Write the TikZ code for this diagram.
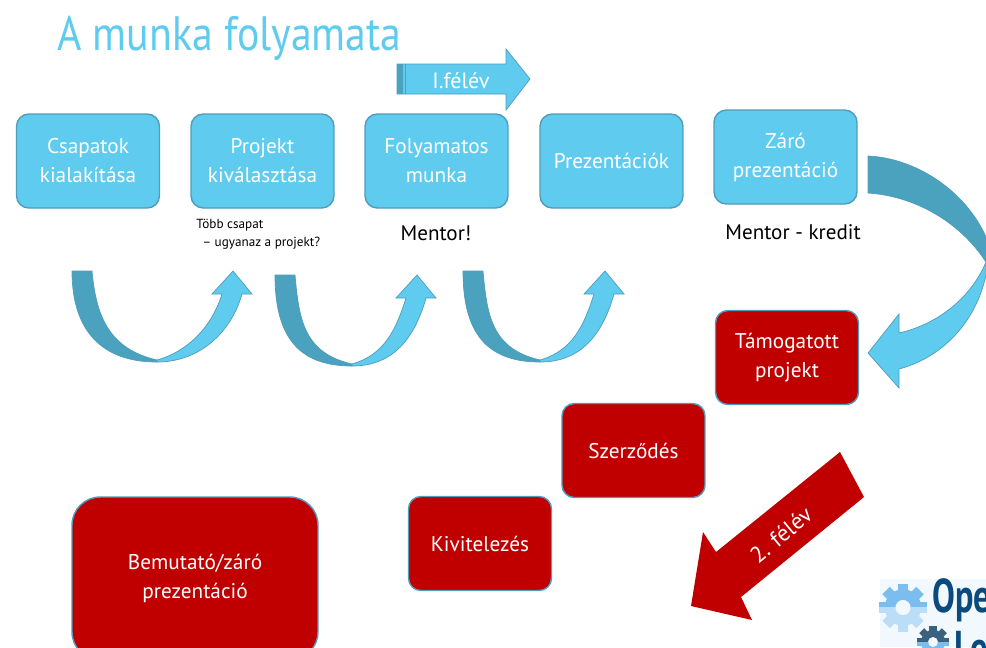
\documentclass[tikz,border=0pt]{standalone}
\usepackage{fontspec}
\setmainfont{PT Sans}
\usepackage{xcolor}
\usetikzlibrary{positioning}
\definecolor{lightblue}{HTML}{5FCBEF}
\definecolor{darkteal}{HTML}{4AA2BE}
\definecolor{edgeblue}{HTML}{4F9DBB}
\definecolor{darkred}{HTML}{C00000}
\definecolor{logoblue}{HTML}{0B4A7D}
\definecolor{logosky}{HTML}{7BBDEE}
\definecolor{logopale}{HTML}{BBDDF7}
\definecolor{logoslate}{HTML}{3A6180}
\definecolor{logoback}{HTML}{F2F9FE}
\tikzset{
  bluebox/.style={draw=edgeblue, line width=0.8pt, fill=lightblue, rounded corners=7pt, text=white, align=center, minimum width=2.86cm, minimum height=1.88cm, inner sep=0pt, font=\fontsize{12.1}{16.5}\selectfont},
  redbox/.style={bluebox, fill=darkred},
  note/.style={black, align=left, inner sep=0pt, font=\fontsize{12}{15}\selectfont},
  smallnote/.style={black, align=left, inner sep=0pt, font=\fontsize{7.5}{10.2}\selectfont},
  arrowdark/.style={draw=edgeblue, line width=0.4pt, fill=darkteal},
  arrowlight/.style={draw=edgeblue, line width=0.4pt, fill=lightblue}
}
% curved arrow under the boxes: left x, top y, lowest x, tip x
\newcommand{\uarrow}[4]{
  \draw[arrowdark] (#1,#2) -- ({#1+20},#2) .. controls ({#1+24},{#2+45}) and ({#3-48},{#2+78}) .. (#3,{#2+89})
    -- (#3,{#2+91}) .. controls ({#3-55},{#2+91}) and (#1,{#2+60}) .. (#1,#2) -- cycle;
  \draw[arrowlight] (#3,{#2+91}) .. controls ({#3+42},{#2+91}) and ({#4-2},{#2+62}) .. ({#4+9},{#2+23})
    -- ({#4+19},{#2+23}) -- (#4,#2) -- ({#4-21},{#2+23}) -- ({#4-11},{#2+23})
    .. controls ({#4-21},{#2+55}) and ({#3+32},{#2+80}) .. (#3,{#2+89}) -- cycle;
}
% gear of the logo: centre x, centre y, radius, upper colour, lower colour
\newcommand{\loggear}[5]{
  \foreach \col/\ya/\yb in {#4/-1.3/0, #5/0/1.3} {
    \begin{scope}
      \clip ({#1-1.3*#3},{#2+\ya*#3}) rectangle ({#1+1.3*#3},{#2+\yb*#3});
      \fill[\col, even odd rule] (#1,#2) circle ({0.76*#3*0.02cm}) (#1,#2) circle ({0.32*#3*0.02cm});
      \foreach \ang in {0,45,...,315}
        \fill[\col, shift={(#1,#2)}, rotate=\ang] ({0.7*#3},{-0.22*#3}) rectangle ({#3},{0.22*#3});
    \end{scope}
  }
}

\begin{document}
\begin{tikzpicture}[x=0.02cm, y=-0.02cm]
  \clip (0,0) rectangle (986,647);
  \fill[white] (0,0) rectangle (986,647);

  % Title
  \node[lightblue, anchor=west, inner sep=0pt, font=\fontsize{27.5}{30}\selectfont] (title) at (57,38) {\scalebox{0.865}[1]{A munka folyamata}};

  % Upper arrow
  \draw[arrowlight] (397,64) -- (506,64) -- (506,49) -- (530,79) -- (506,110) -- (506,94) -- (397,94) -- cycle;
  \fill[darkteal] (397,64) rectangle (403,94);
  \fill[darkteal] (404.5,64) rectangle (406,94);
  \node[white, inner sep=0pt, font=\fontsize{12.6}{15}\selectfont] (felev1) at (461,81) {I.félév};

  % First row
  \node[bluebox] (csapatok) at (88,161) {Csapatok\\kialakítása};
  \node[bluebox] (projekt) at (262.5,161) {Projekt\\kiválasztása};
  \node[bluebox] (munka) at (436.5,161) {Folyamatos\\munka};
  \node[bluebox] (prez) at (611.5,161) {Prezentációk};
  \node[bluebox] (zaro) at (785.5,157) {Záró\\prezentáció};

  % Notes
  \node[smallnote, anchor=north west] (tobb) at (196,219) {Több csapat\\ \hspace{3.5pt}-- ugyanaz a projekt?};
  \node[note] (mentor) at (436,233) {Mentor!};
  \node[note] (kredit) at (793,232) {Mentor - kredit};

  % Curved arrows
  \uarrow{72}{271}{157}{233}
  \uarrow{275}{275}{352}{417}
  \uarrow{463}{271}{540}{605}

  % Big arrow on the right
  \draw[arrowdark] (868,156) .. controls (915,158) and (965,190) .. (986,237) -- (986,262)
    .. controls (960,222) and (915,196) .. (868,193) -- cycle;
  \draw[arrowlight] (986,262) -- (986,275) .. controls (975,325) and (940,358) .. (899,369) -- (899,388) -- (868,353)
    -- (899,314) -- (899,333) .. controls (935,325) and (970,300) .. (986,262) -- cycle;

  % Red boxes
  \node[redbox] (tamogatott) at (787,357.5) {Támogatott\\projekt};
  \node[redbox] (szerzodes) at (633.5,450.5) {Szerződés};
  \node[redbox] (kivitel) at (480,543.5) {Kivitelezés};
  \node[redbox, rounded corners=16pt, minimum width=4.92cm, minimum height=3.26cm] (bemutato) at (195,578.5) {Bemutató/záró\\prezentáció};

  % Second semester arrow
  \fill[darkred] (840,452) -- (864,497) -- (741,597) -- (752,620) -- (691,606) -- (703,532) -- (716,552) -- cycle;
  \node[white, rotate=40, inner sep=0pt, font=\fontsize{13}{15}\selectfont] (felev2) at (781,535) {2. félév};

  % Logo
  \fill[logoback] (880,579) rectangle (986,647);
  \loggear{903}{607.5}{24}{logosky}{logopale}
  \loggear{933}{642}{16}{logoslate}{logosky}
  \node[logoblue, anchor=west, inner sep=0pt, font=\fontsize{27}{30}\bfseries\selectfont] (logoa) at (932,600) {\scalebox{0.72}[1]{Ope}};
  \node[logoblue, anchor=west, inner sep=0pt, font=\fontsize{27}{30}\bfseries\selectfont] (logob) at (954,648) {\scalebox{0.72}[1]{Le}};
\end{tikzpicture}
\end{document}
